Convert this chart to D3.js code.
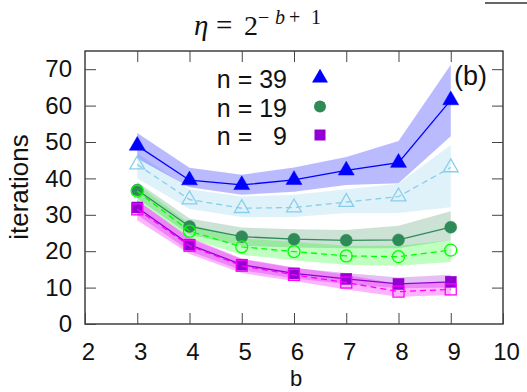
<!DOCTYPE html>
<html>
<head>
<meta charset="utf-8">
<script src="https://cdn.jsdelivr.net/npm/d3@7"></script>
<style>
  body { margin: 0; background: #fff; }
  svg { display: block; font-family: "Liberation Sans", Arial, sans-serif; }
</style>
</head>
<body>
<div id="app"></div>
<script>
// data
const bVals = [3, 4, 5, 6, 7, 8, 9]
const xTicks = [2, 3, 4, 5, 6, 7, 8, 9, 10]
const yTicks = [0, 10, 20, 30, 40, 50, 60, 70]

const n39 = [49, 39.5, 38.2, 39.6, 42.2, 44.3, 61.5]
const n39Lo = [45.5, 37.6, 35.5, 36.3, 38.2, 38.7, 51.6]
const n39Hi = [52.5, 42.9, 41, 43, 45.9, 50.3, 71.2]
const n39b = [43.8, 34.2, 31.8, 32, 33.5, 35, 43]
const n39bLo = [40, 31.6, 29.4, 29.4, 30.5, 30.5, 32.1]
const n39bHi = [47, 37, 35, 35.5, 37, 38.5, 49.2]

const n19 = [36.8, 26.8, 24, 23.3, 23, 23.1, 26.6]
const n19Lo = [34.5, 24.5, 21.5, 21, 20.8, 20.8, 23]
const n19Hi = [39, 29, 26.5, 26, 25.8, 27, 31]
const n19b = [36.5, 25.5, 21.2, 19.9, 18.7, 18.5, 20.3]
const n19bLo = [34, 23.5, 19, 17.5, 16.3, 16, 17]
const n19bHi = [38.5, 27.5, 23.5, 22.5, 21.5, 21.5, 23]

const n9 = [32, 21.8, 16.3, 13.9, 12.4, 11, 11.6]
const n9Lo = [30, 20, 14.8, 12.5, 11, 9.8, 10]
const n9Hi = [34, 23.5, 17.8, 15.4, 14, 12.8, 13.5]
const n9b = [31.5, 21.5, 16, 13.5, 11.4, 8.9, 9.5]
const n9bLo = [28.5, 19.2, 14, 11.8, 9.5, 7.5, 8]
const n9bHi = [34, 23.8, 18, 15.5, 13.5, 11, 11.5]

const legendLabels = ['n = 39', 'n = 19', 'n =   9']

const series = [
  { v: n39b, lo: n39bLo, hi: n39bHi, color: '#87ceeb', band: 'rgba(135,206,235,0.27)', shape: 'tri', filled: false, dash: true },
  { v: n39, lo: n39Lo, hi: n39Hi, color: '#0000ff', band: 'rgba(0,0,255,0.27)', shape: 'tri', filled: true, dash: false },
  { v: n19, lo: n19Lo, hi: n19Hi, color: '#2e8b57', band: 'rgba(46,139,87,0.25)', shape: 'circle', filled: true, dash: false },
  { v: n19b, lo: n19bLo, hi: n19bHi, color: '#00ff00', band: 'rgba(0,255,0,0.25)', shape: 'circle', filled: false, dash: true },
  { v: n9, lo: n9Lo, hi: n9Hi, color: '#9400d3', band: 'rgba(148,0,211,0.25)', shape: 'square', filled: true, dash: false },
  { v: n9b, lo: n9bLo, hi: n9bHi, color: '#ff00ff', band: 'rgba(255,0,255,0.3)', shape: 'square', filled: false, dash: true },
]

const W = 527, H = 392
const m = { left: 85, right: 24, top: 51, bottom: 68 }

const svg = d3.select('#app').append('svg').attr('width', W).attr('height', H)

const x = d3.scaleLinear().domain([2, 10]).range([m.left, W - m.right])
const y = d3.scaleLinear().domain([0, 75]).range([H - m.bottom, m.top])

// bands
const area = d3.area().x((d) => x(d.b)).y0((d) => y(d.lo)).y1((d) => y(d.hi))
series.forEach((s) => {
  const pts = bVals.map((b, i) => ({ b, lo: s.lo[i], hi: s.hi[i] }))
  svg.append('path').attr('d', area(pts)).attr('fill', s.band).attr('stroke', 'none')
})

// lines + markers
const line = d3.line().x((d) => x(d.b)).y((d) => y(d.v))
const tri = d3.symbol().type(d3.symbolTriangle)
series.forEach((s) => {
  const pts = bVals.map((b, i) => ({ b, v: s.v[i] }))
  svg.append('path')
    .attr('d', line(pts))
    .attr('fill', 'none')
    .attr('stroke', s.color)
    .attr('stroke-width', 1.3)
    .attr('stroke-dasharray', s.dash ? '6,4' : null)

  const g = svg.append('g')
  pts.forEach((p) => {
    let el
    if (s.shape === 'tri') {
      el = g.append('path').attr('d', tri.size(s.filled ? 110 : 95)())
        .attr('transform', `translate(${x(p.b)},${y(p.v)})`)
    } else if (s.shape === 'circle') {
      el = g.append('circle').attr('cx', x(p.b)).attr('cy', y(p.v)).attr('r', 6)
    } else {
      el = g.append('rect').attr('x', x(p.b) - 5.5).attr('y', y(p.v) - 5.5).attr('width', 11).attr('height', 11)
    }
    el.attr('fill', s.filled ? s.color : 'none')
      .attr('stroke', s.color)
      .attr('stroke-width', s.filled ? 0.5 : 1.3)
  })
})

// frame
svg.append('rect')
  .attr('x', m.left).attr('y', m.top)
  .attr('width', W - m.right - m.left).attr('height', H - m.bottom - m.top)
  .attr('fill', 'none').attr('stroke', '#333').attr('stroke-width', 1.4)

// axes, ticks pointing inward on all four sides
const axisStyle = (g) => {
  g.select('.domain').remove()
  g.selectAll('.tick line').attr('stroke', '#444')
  g.selectAll('.tick text').attr('font-size', 24).attr('fill', '#111').attr('font-family', '"Liberation Sans", Arial, sans-serif')
}
svg.append('g').attr('transform', `translate(0,${H - m.bottom})`)
  .call(d3.axisBottom(x).tickValues(xTicks).tickSizeInner(-11).tickPadding(19))
  .call(axisStyle)
  .call((g) => g.selectAll('.tick text').attr('dx', 3))
svg.append('g').attr('transform', `translate(0,${m.top})`)
  .call(d3.axisTop(x).tickValues(xTicks.slice(1, -1)).tickSizeInner(-11).tickFormat(''))
  .call(axisStyle)
svg.append('g').attr('transform', `translate(${m.left},0)`)
  .call(d3.axisLeft(y).tickValues(yTicks).tickSizeInner(-11).tickPadding(13))
  .call(axisStyle)
svg.append('g').attr('transform', `translate(${W - m.right},0)`)
  .call(d3.axisRight(y).tickValues(yTicks.slice(1)).tickSizeInner(-11).tickFormat(''))
  .call(axisStyle)

// axis titles
svg.append('text').attr('x', (m.left + W - m.right) / 2 + 2).attr('y', 386)
  .attr('text-anchor', 'middle').attr('font-size', 22).attr('fill', '#111').text('b')
svg.append('text').attr('transform', `translate(28,${187}) rotate(-90)`)
  .attr('text-anchor', 'middle').attr('font-size', 26).attr('fill', '#111').text('iterations')

// title  η = 2^(−b+1)
const tg = svg.append('g').attr('font-family', '"Liberation Serif", "DejaVu Serif", serif').attr('fill', '#111')
tg.append('text').attr('x', 194).attr('y', 35).attr('font-size', 29).attr('font-style', 'italic').text('η')
tg.append('text').attr('x', 216).attr('y', 35).attr('font-size', 29).text('=')
tg.append('text').attr('x', 244).attr('y', 35).attr('font-size', 28).text('2')
tg.append('text').attr('x', 258).attr('y', 24).attr('font-size', 20).text('−')
tg.append('text').attr('x', 275).attr('y', 24).attr('font-size', 20).attr('font-style', 'italic').text('b')
tg.append('text').attr('x', 289).attr('y', 24).attr('font-size', 20).text('+')
tg.append('text').attr('x', 311).attr('y', 24).attr('font-size', 20).text('1')

// small stray line top right
svg.append('line').attr('x1', 485).attr('x2', 527).attr('y1', 3).attr('y2', 3).attr('stroke', '#333').attr('stroke-width', 1.5)

// panel label
svg.append('text').attr('x', 454).attr('y', 85).attr('font-size', 27).attr('fill', '#111').text('(b)')

// legend
const legendSeries = [series[1], series[2], series[4]]
legendLabels.forEach((lab, i) => {
  const ly = 78 + i * 28.5
  svg.append('text').attr('x', 287).attr('y', ly + 10).attr('text-anchor', 'end')
    .attr('font-size', 25).attr('fill', '#111').style('white-space', 'pre').text(lab)
  const s = legendSeries[i]
  if (s.shape === 'tri') {
    svg.append('path').attr('d', tri.size(110)()).attr('transform', `translate(320,${ly})`).attr('fill', s.color)
  } else if (s.shape === 'circle') {
    svg.append('circle').attr('cx', 320).attr('cy', ly).attr('r', 6).attr('fill', s.color)
  } else {
    svg.append('rect').attr('x', 314.5).attr('y', ly - 5.5).attr('width', 11).attr('height', 11).attr('fill', s.color)
  }
})
</script>
</body>
</html>
